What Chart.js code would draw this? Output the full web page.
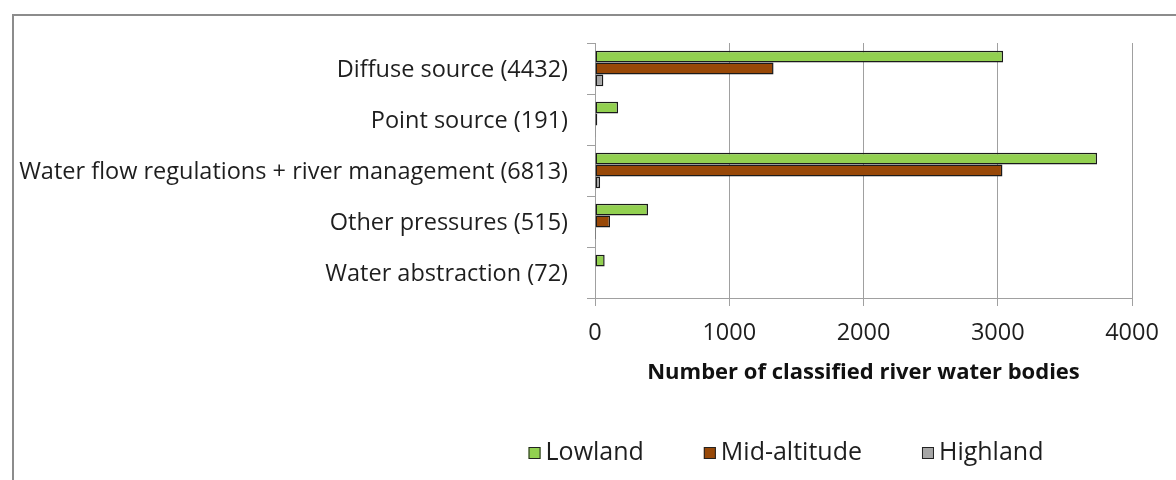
<!DOCTYPE html>
<html>
<head>
<meta charset="utf-8">
<script src="https://cdn.jsdelivr.net/npm/chart.js@4.4.1/dist/chart.umd.min.js"></script>
<style>
  html, body { margin: 0; padding: 0; background: #fff; }
  .wrap { position: relative; width: 1176px; height: 480px; overflow: hidden; }
  .frame {
    position: absolute; left: 12px; top: 14px; width: 1200px; height: 500px;
    border: 2px solid #8c8c8c; box-sizing: border-box; pointer-events: none;
  }
  canvas { position: absolute; left: 0; top: 0; }
</style>
</head>
<body>
<div class="wrap">
  <div class="frame"></div>
  <canvas id="myChart" width="1176" height="480"></canvas>
</div>
<script>
const pressures = [
  'Diffuse source (4432)',
  'Point source (191)',
  'Water flow regulations + river management (6813)',
  'Other pressures (515)',
  'Water abstraction (72)'
]
const lowland = [3040, 172, 3740, 395, 72]
const midAltitude = [1330, 17, 3035, 112, 0]
const highland = [62, 2, 38, 8, 0]
const xTicks = [0, 1000, 2000, 3000, 4000]

const FONT = '"Open Sans", sans-serif'
const TEXT = '#1e1e1e'

// legend row under the chart, drawn from the dataset colours
const legendRow = {
  id: 'legendRow',
  afterDraw(chart) {
    const ctx = chart.ctx
    const sets = chart.data.datasets
    const box = 12, gap = 5, spacing = 60
    ctx.save()
    ctx.font = '25px ' + FONT
    const widths = sets.map(ds => box + gap + ctx.measureText(ds.label).width)
    const total = widths.reduce((a, b) => a + b, 0) + spacing * (sets.length - 1)
    let x = 786 - total / 2
    const y = 453
    sets.forEach((ds, i) => {
      ctx.fillStyle = ds.backgroundColor
      ctx.fillRect(x, y - box / 2, box, box)
      ctx.strokeStyle = '#222'
      ctx.lineWidth = 1
      ctx.strokeRect(x + 0.5, y - box / 2 + 0.5, box - 1, box - 1)
      ctx.fillStyle = TEXT
      ctx.textBaseline = 'middle'
      ctx.textAlign = 'left'
      ctx.fillText(ds.label, x + box + gap, y)
      x += widths[i] + spacing
    })
    ctx.restore()
  }
}

const createChart = () => {
  const ctx = document.getElementById('myChart')

  const bar = (label, values, colour) => ({
    label: label,
    data: values,
    backgroundColor: colour,
    borderColor: '#1a1a1a',
    borderWidth: 1.5,
    borderSkipped: false,
    categoryPercentage: 0.7,
    barPercentage: 1.0
  })

  new Chart(ctx, {
    type: 'bar',
    data: {
      labels: pressures,
      datasets: [
        bar('Lowland', lowland, '#92d050'),
        bar('Mid-altitude', midAltitude, '#984807'),
        bar('Highland', highland, '#a6a6a6')
      ]
    },
    options: {
      indexAxis: 'y',
      responsive: false,
      animation: false,
      layout: { padding: { top: 43, right: 44, bottom: 94, left: 0 } },
      plugins: {
        legend: { display: false },
        tooltip: { enabled: false }
      },
      scales: {
        x: {
          min: 0,
          max: 4000,
          afterBuildTicks: scale => { scale.ticks = xTicks.map(v => ({ value: v })) },
          afterFit: scale => { scale.height = 88 },
          grid: { color: '#a0a0a0', lineWidth: 1, tickLength: 8, drawTicks: true },
          border: { color: '#a0a0a0', width: 1 },
          ticks: {
            color: TEXT,
            padding: 13,
            font: { family: FONT, size: 23.5 },
            callback: value => String(value)
          },
          title: {
            display: true,
            text: 'Number of classified river water bodies',
            color: '#111',
            padding: { top: 10, bottom: 0 },
            font: { family: FONT, size: 22, weight: 'bold' }
          }
        },
        y: {
          afterFit: scale => { scale.width = 595 },
          grid: { drawOnChartArea: false, color: '#a0a0a0', tickLength: 8, offset: true },
          border: { color: '#a0a0a0', width: 1 },
          ticks: { color: TEXT, padding: 19, labelOffset: 2, font: { family: FONT, size: 23.5 } }
        }
      }
    },
    plugins: [legendRow]
  })
}

createChart()
</script>
</body>
</html>
